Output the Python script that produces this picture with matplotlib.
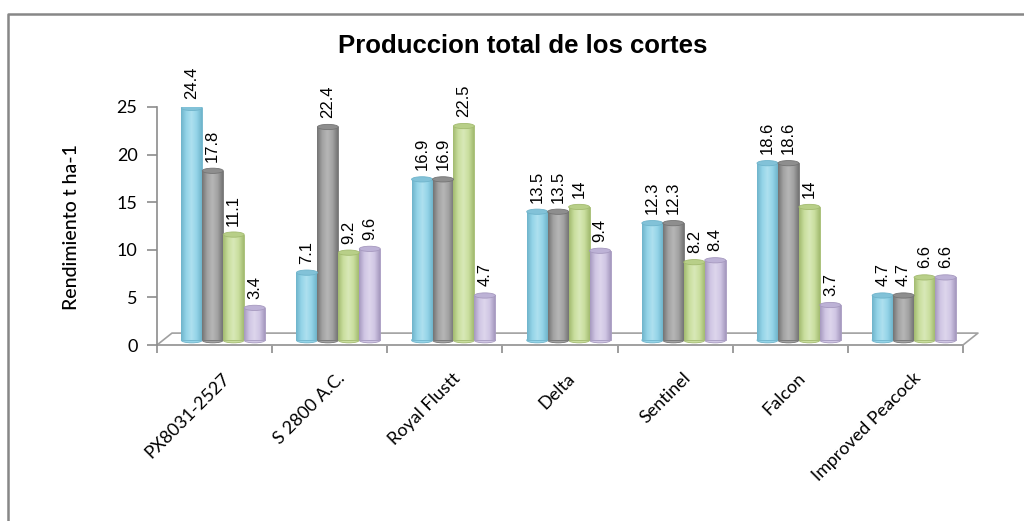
import numpy as np
import matplotlib
matplotlib.use('Agg')
import matplotlib.pyplot as plt
from matplotlib.colors import LinearSegmentedColormap
from matplotlib.patches import Ellipse
from matplotlib.lines import Line2D
import matplotlib.transforms as mtransforms

categories = ['PX8031-2527', 'S 2800 A.C.', 'Royal Flustt', 'Delta',
              'Sentinel', 'Falcon', 'Improved Peacock']
serie1 = [24.4, 7.1, 16.9, 13.5, 12.3, 18.6, 4.7]
serie2 = [17.8, 22.4, 16.9, 13.5, 12.3, 18.6, 4.7]
serie3 = [11.1, 9.2, 22.5, 14, 8.2, 14, 6.6]
serie4 = [3.4, 9.6, 4.7, 9.4, 8.4, 3.7, 6.6]
labels1 = ['24.4', '7.1', '16.9', '13.5', '12.3', '18.6', '4.7']
labels2 = ['17.8', '22.4', '16.9', '13.5', '12.3', '18.6', '4.7']
labels3 = ['11.1', '9.2', '22.5', '14', '8.2', '14', '6.6']
labels4 = ['3.4', '9.6', '4.7', '9.4', '8.4', '3.7', '6.6']

series = [serie1, serie2, serie3, serie4]
labels = [labels1, labels2, labels3, labels4]
# (dark edge, base, highlight, top)
colors = [('#6fb4cb', '#94d4e8', '#aee0ef', '#82c2d8'),
          ('#747474', '#a2a2a2', '#b6b6b6', '#8e8e8e'),
          ('#a3bb70', '#c9de9e', '#d8e8b8', '#b8cf88'),
          ('#a699bf', '#d0c6e4', '#ddd6ec', '#bdb2d6')]

fig = plt.figure(figsize=(10.24, 5.21), dpi=100)
ax = fig.add_axes([157 / 1024, 176 / 521, 806 / 1024, 238 / 521])
ax.set_xlim(0, 7)
ax.set_ylim(0, 25)

w = 0.182
depth = 0.5     # floor depth offset (data units)
shift = 0.075   # perspective shift to the right
x = np.arange(len(categories)) + 0.5

for i, (vals, labs, (dark, base, light, top)) in enumerate(zip(series, labels, colors)):
    cmap = LinearSegmentedColormap.from_list('c%d' % i, [dark, base, light, base, dark])
    grad = np.linspace(0, 1, 64).reshape(1, -1)
    xs = x + (i - 1.5) * w + shift
    bars = ax.bar(xs, vals, width=w, bottom=depth, color=base, edgecolor=dark,
                  linewidth=0.6, zorder=3)
    for b, v, lab in zip(bars, vals, labs):
        x0 = b.get_x()
        im = ax.imshow(grad, cmap=cmap, aspect='auto', zorder=3.5,
                       extent=[x0, x0 + w, depth, depth + v])
        im.set_clip_path(b)
        ax.add_patch(Ellipse((x0 + w / 2, depth + v), w, 0.55, facecolor=top,
                             edgecolor=dark, linewidth=0.6, zorder=4))
        ax.add_patch(Ellipse((x0 + w / 2, depth), w, 0.55, facecolor=base,
                             edgecolor=dark, linewidth=0.6, zorder=2.9))
        ax.text(x0 + w / 2, depth + v + 0.95, lab, rotation=90, ha='center',
                va='bottom', fontsize=12, family='Liberation Sans', zorder=5,
                clip_on=False)

for s in ['top', 'right', 'bottom']:
    ax.spines[s].set_visible(False)
ax.spines['left'].set_color('#8c8c8c')
ax.spines['left'].set_linewidth(1.2)

# floor
gc = '#a0a0a0'
ax.plot([0, 7], [0, 0], color=gc, lw=1.4, clip_on=False, zorder=2)
ax.plot([0, 0.13, 7.13, 7], [0, 1.25, 1.25, 0], color=gc, lw=1.2, clip_on=False, zorder=2)

ax.set_yticks([0, 5, 10, 15, 20, 25])
ax.tick_params(axis='y', direction='out', length=7, width=1.2, color='#8c8c8c',
               labelsize=13, pad=7)
for t in ax.get_yticklabels():
    t.set_family('Lato')

ax.set_xticks(np.arange(8), minor=True)
ax.set_xticks([])
ax.tick_params(axis='x', which='minor', direction='out', length=6, width=1.2,
               color='#8c8c8c')

trans = mtransforms.offset_copy(ax.get_xaxis_transform(), fig=fig, x=7, y=-25,
                                units='dots')
for xi, c in zip(x, categories):
    ax.text(xi, 0, c, rotation=45, rotation_mode='anchor', ha='right', va='top',
            transform=trans, fontsize=13, family='Lato', clip_on=False)

ax.set_ylabel('Rendimiento t ha-1', fontsize=14, family='Lato', fontweight='medium')
ax.yaxis.set_label_coords(-0.0955, 0.496)

fig.text(0.51, 1 - 46 / 521, 'Produccion total de los cortes', ha='center',
         va='center', fontsize=18.5, fontweight='bold', family='Liberation Sans')

# chart frame
fig.add_artist(Line2D([8 / 1024, 8 / 1024, 1.0], [0, 1 - 14 / 521, 1 - 14 / 521],
                      transform=fig.transFigure, color='#878787', lw=1.8))

fig.savefig('out.png', dpi=100)
